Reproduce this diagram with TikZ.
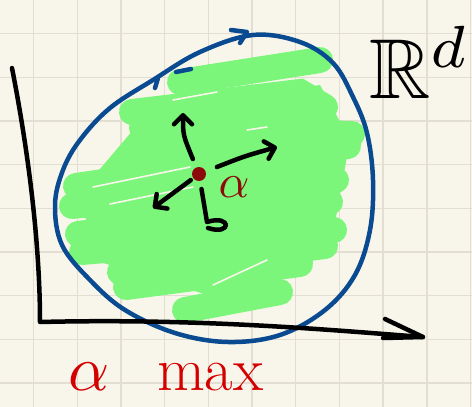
\documentclass[tikz,border=0pt]{standalone}
\usepackage{amssymb}
\usetikzlibrary{arrows.meta,positioning}
\definecolor{paper}{RGB}{248,246,235}
\definecolor{gridln}{RGB}{226,223,210}
\definecolor{marker}{RGB}{124,246,122}
\definecolor{ballblue}{RGB}{10,74,144}
\definecolor{inkred}{RGB}{212,0,0}
\definecolor{darkink}{RGB}{140,10,10}

\begin{document}
\begin{tikzpicture}[
  x=1pt,y=-1pt,
  ink/.style={line width=4.5pt,line cap=round,line join=round},
  arr/.style={ink,-{Straight Barb[length=9pt,width=18pt,round]}},
  gridline/.style={draw=gridln,line width=1.4pt},
  scribble/.style={draw=marker,line width=26pt,line cap=round},
  streak/.style={draw=paper,line width=1.6pt,line cap=round},
  hand/.style={text=inkred,inner sep=0pt}
]
\useasboundingbox[fill=paper] (0,0) rectangle (472,407);
% squared paper
\foreach \k in {0,...,10} {
  \draw[gridline] ({33.5+43.7*\k},0) -- ({33.5+43.7*\k},407);
  \draw[gridline] (0,{33.5+43.7*\k}) -- (472,{33.5+43.7*\k});
}
% green highlighter
\fill[marker] (150,110) -- (320,85) -- (350,140) -- (330,250) -- (240,305) -- (100,262) -- (78,195) -- cycle;
\draw[scribble] (180,82) -- (320,60);
\draw[scribble] (132,112) -- (300,92) -- (325,107);
\draw[scribble] (142,128) -- (352,134);
\draw[scribble] (76,186) -- (348,146);
\draw[scribble] (72,206) -- (336,180);
\draw[scribble] (78,234) -- (330,202);
\draw[scribble] (82,252) -- (334,230);
\draw[scribble] (120,272) -- (325,246);
\draw[scribble] (126,287) -- (300,264);
\draw[scribble] (185,310) -- (280,292);
\draw[streak] (173,100) -- (217,92);
\draw[streak] (247,130) -- (267,127);
\draw[streak] (93,187) -- (190,167);
\draw[streak] (110,204) -- (193,187);
\draw[streak] (213,285) -- (267,260);
% ball
\draw[ballblue,ink] plot[smooth cycle,tension=0.6] coordinates {
  (253,35) (300,42) (333,63) (353,97) (367,133) (373,180) (370,230)
  (355,275) (325,310) (280,335) (228,342) (175,333) (125,310) (90,280)
  (62,245) (55,205) (63,170) (80,140) (110,108) (153,80) (200,52)};
\draw[ballblue,ink] (155,88) -- (158,78);
\draw[ballblue,ink] (191,69) -- (176,72);
\draw[ballblue,ink] (231,30) -- (247,32) -- (240,43);
% axes
\coordinate (ytop) at (12,68);
\coordinate (orig) at (40,322);
\coordinate (xend) at (423,337);
\draw[ink] (ytop) .. controls (30,160) and (40,250) .. (orig)
  .. controls (200,318) and (330,330) .. (xend);
\draw[ink] (385,319) -- (xend) -- (383,338);
\node[inner sep=0pt,scale=8.5] (space) at (420,62) {$\mathbb{R}^d$};
% point and directions
\node[circle,fill=darkink,minimum size=14pt,inner sep=0pt] (pt) at (199,174) {};
\node[text=darkink,inner sep=0pt,scale=4.8] (alab) at (234,187) {$\alpha$};
\coordinate (up) at (183,113);
\coordinate (rt) at (277,147);
\coordinate (lf) at (153,208);
\coordinate (dn) at (207,222);
\draw[arr,shorten <=9pt] (pt) .. controls (183,135) .. (up);
\draw[arr,shorten <=12pt] (pt) .. controls (245,156) .. (rt);
\draw[arr,shorten <=3pt] (pt) -- (lf);
\draw[ink,shorten <=8pt] (pt) -- (dn) .. controls (232,214) and (232,236) .. (208,228);
% caption
\node[hand,scale=6.4] (amax) at (89,377) {$\alpha$};
\node[hand,font=\fontsize{62}{62}\selectfont,right=46pt of amax] (maxlab) {max};
\end{tikzpicture}
\end{document}
